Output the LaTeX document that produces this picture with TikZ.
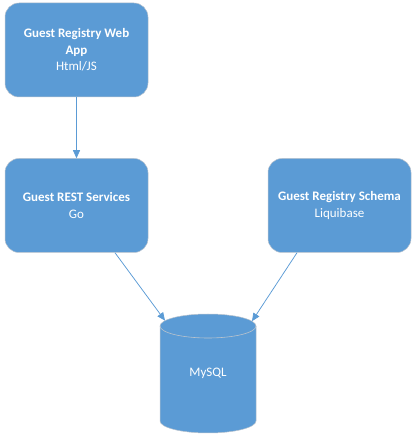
\documentclass[tikz,border=0pt]{standalone}
\usepackage{fontspec}
\setmainfont{Carlito}
\usetikzlibrary{arrows.meta}
\definecolor{officeblue}{RGB}{91,155,213}
\definecolor{edgegray}{RGB}{185,195,205}
\tikzset{
  svcbox/.style={rectangle, rounded corners=14pt, fill=officeblue, draw=edgegray, line width=0.5pt,
    minimum width=143pt, minimum height=94pt, inner sep=0pt, align=center, text=white,
    font=\fontsize{13}{16.5}\selectfont},
  conn/.style={draw=officeblue, line width=0.75pt, -{Triangle[length=8pt,width=7pt]}},
  dblabel/.style={text=white, font=\fontsize{13}{15}\selectfont, inner sep=1pt}
}
\begin{document}
\begin{tikzpicture}[x=1pt,y=1pt]
\useasboundingbox (0,0) rectangle (417,448);
\node[svcbox] (web) at (76.5,398) {\textbf{Guest Registry Web}\\\textbf{App}\\Html/JS};
\node[svcbox] (rest) at (76.5,242.5) {\textbf{Guest REST Services}\\Go};
\node[svcbox] (schema) at (339.5,242.5) {\textbf{Guest Registry Schema}\\Liquibase};
% cylinder
\fill[officeblue] (160,122) -- (160,27) arc[start angle=180,end angle=360,x radius=48pt,y radius=12pt]
  -- (256,122) arc[start angle=0,end angle=180,x radius=48pt,y radius=12pt] -- cycle;
\draw[edgegray, line width=0.5pt] (160,122) -- (160,27) arc[start angle=180,end angle=360,x radius=48pt,y radius=12pt]
  -- (256,122) arc[start angle=0,end angle=180,x radius=48pt,y radius=12pt];
\draw[edgegray, line width=0.6pt] (256,122) arc[start angle=0,end angle=-180,x radius=48pt,y radius=12pt];
\node[dblabel] (db) at (208,75) {MySQL};
\coordinate (dbl) at (165,127.4);
\coordinate (dbr) at (252,126.8);
\coordinate (restout) at ([xshift=38.5pt]rest.south);
\coordinate (schemaout) at ([xshift=-42.5pt]schema.south);
\draw[conn] (web.south) -- (rest.north);
\draw[conn] (restout) -- (dbl);
\draw[conn] (schemaout) -- (dbr);
\end{tikzpicture}
\end{document}
